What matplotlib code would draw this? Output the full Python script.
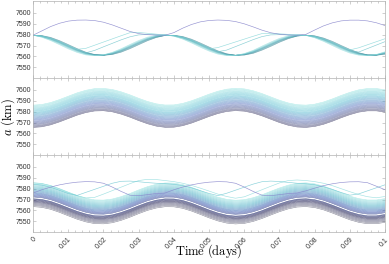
import numpy as np
import matplotlib.pyplot as plt
from matplotlib.colors import LinearSegmentedColormap

plt.rcParams['mathtext.fontset'] = 'cm'
plt.rcParams['font.family'] = ['Liberation Sans', 'DejaVu Sans']

# sample times (days), every 0.0025
TIME = np.linspace(0, 0.1, 41)

# panel 1: main bundle, phase spread profile, purple and cyan outliers
BASE1 = [7579.5, 7578.7, 7576.6, 7573.4, 7569.7, 7566.1, 7563.1, 7561.4, 7561.1, 7562.3,
         7564.8, 7568.2, 7571.9, 7575.4, 7578.0, 7579.4, 7579.2, 7577.6, 7574.8, 7571.2,
         7567.5, 7564.2, 7561.9, 7561.0, 7561.6, 7563.6, 7566.8, 7570.4, 7574.1, 7577.1,
         7579.0, 7579.5, 7578.4, 7576.0, 7572.7, 7568.9, 7565.4, 7562.7, 7561.2, 7561.2, 7562.7]
SPREAD1 = [0, -0.40, -0.73, -0.94, -1.00, -0.89, -0.64, -0.28, 0.12, 0.51,
           0.81, 0.97, 0.98, 0.83, 0.54, 0.16, -0.24, -0.61, -0.87, -0.99,
           -0.95, -0.76, -0.43, -0.04, 0.36, 0.70, 0.93, 1.00, 0.91, 0.67,
           0.32, -0.08, -0.47, -0.78, -0.97, -0.99, -0.85, -0.57, -0.20, 0.20, 0.57]
SPREAD_K1 = [-1.2, -0.6, 0.0, 0.4, 0.8, 1.2, 1.6, 2.2, 2.8]
PURPLE1 = [7579.5, 7583.5, 7587.5, 7590.5, 7592.5, 7593.4, 7593.5, 7593.0, 7591.5, 7589.0,
           7586.0, 7583.0, 7581.0, 7580.0, 7579.6, 7579.5, 7581.9, 7586.0, 7589.4, 7591.8,
           7593.1, 7593.5, 7593.2, 7592.1, 7590.0, 7587.2, 7584.2, 7581.8, 7580.4, 7579.7,
           7579.5, 7580.3, 7584.3, 7588.1, 7590.9, 7592.7, 7593.4, 7593.4, 7592.7, 7591.0, 7588.4]
CYAN1A = [7579.5, 7578.7, 7576.6, 7573.4, 7569.7, 7566.5, 7567.4, 7570.3, 7573.2, 7576.1,
          7579.0, 7581.8, 7582.0, 7581.3, 7580.5, 7579.8, 7579.2, 7577.6, 7574.8, 7571.2,
          7567.0, 7568.1, 7570.7, 7573.3, 7575.9, 7578.5, 7581.0, 7581.2, 7580.8, 7580.3,
          7579.8, 7579.5, 7578.4, 7576.0, 7572.7, 7568.9, 7566.0, 7567.9, 7570.7, 7573.5, 7576.3]
CYAN1B = [7579.5, 7578.7, 7576.6, 7573.4, 7569.7, 7566.1, 7563.3, 7565.5, 7568.8, 7572.0,
          7575.2, 7578.0, 7579.8, 7580.2, 7579.9, 7579.6, 7579.2, 7577.6, 7574.8, 7571.2,
          7567.5, 7564.3, 7565.8, 7569.0, 7572.2, 7575.4, 7578.2, 7579.8, 7580.0, 7579.8,
          7579.6, 7579.5, 7578.4, 7576.0, 7572.7, 7568.9, 7565.4, 7564.0, 7567.2, 7570.4, 7573.6]

# panel 2: lowest line and stacked offsets
BASE2 = [7565.5, 7566.1, 7567.9, 7570.6, 7573.7, 7576.8, 7579.2, 7580.7, 7580.9, 7579.9,
         7577.8, 7575.0, 7571.8, 7568.9, 7566.7, 7565.6, 7565.7, 7567.1, 7569.5, 7572.5,
         7575.6, 7578.3, 7580.2, 7581.0, 7580.5, 7578.8, 7576.2, 7573.1, 7570.0, 7567.5,
         7565.9, 7565.5, 7566.4, 7568.4, 7571.2, 7574.4, 7577.3, 7579.6, 7580.8, 7580.8, 7579.6]
OFFSETS2 = [0.0, 0.8, 1.6, 2.5, 3.3, 4.1, 4.9, 5.7, 6.6, 7.4, 8.2, 9.0, 9.8,
            10.7, 11.5, 12.3, 13.1, 13.9, 14.8, 15.6, 16.4, 17.2, 18.0, 18.9, 19.7, 20.5]

# panel 3: lowest line, offsets (with a gap), purple and cyan outliers
BASE3 = [7564.0, 7563.3, 7561.5, 7558.7, 7555.5, 7552.4, 7549.9, 7548.3, 7548.1, 7549.1,
         7551.3, 7554.2, 7557.5, 7560.5, 7562.7, 7563.9, 7563.8, 7562.4, 7559.9, 7556.8,
         7553.6, 7550.8, 7548.8, 7548.0, 7548.5, 7550.3, 7553.0, 7556.2, 7559.3, 7561.9,
         7563.6, 7564.0, 7563.1, 7561.0, 7558.1, 7554.9, 7551.8, 7549.5, 7548.2, 7548.2, 7549.5]
OFFSETS3 = [-0.5, 0.5, 1.4, 2.3, 3.2, 4.0, 4.7, 5.4, 6.1, 6.7,
            8.4, 9.2, 10.0, 10.8, 11.6, 12.4, 13.3, 14.2, 15.1,
            16.0, 16.9, 17.8, 18.7, 19.6, 20.5, 21.3]
PURPLE3 = [7576.0, 7579.0, 7581.5, 7583.5, 7585.0, 7586.0, 7586.5, 7586.3, 7585.0, 7581.5,
           7577.5, 7574.0, 7573.5, 7574.5, 7575.5, 7576.0, 7579.0, 7581.5, 7583.5, 7585.0,
           7586.0, 7586.5, 7586.3, 7585.0, 7581.5, 7577.5, 7574.0, 7573.5, 7574.5, 7575.5,
           7576.0, 7578.0, 7580.5, 7582.8, 7584.5, 7585.7, 7586.3, 7586.4, 7585.5, 7582.3, 7579.0]
CYAN3A = [7585.5, 7584.8, 7582.8, 7579.8, 7576.5, 7573.5, 7571.5, 7572.0, 7575.0, 7578.2,
          7581.4, 7584.6, 7587.5, 7588.6, 7588.4, 7587.5, 7586.5, 7585.0, 7583.0, 7580.5,
          7577.8, 7575.0, 7572.8, 7571.2, 7572.5, 7575.7, 7579.0, 7582.2, 7585.3, 7587.5,
          7588.0, 7587.5, 7586.5, 7585.0, 7582.8, 7580.0, 7577.2, 7574.6, 7572.6, 7571.6, 7572.8]
CYAN3B = [7584.0, 7583.3, 7581.3, 7578.5, 7575.5, 7573.8, 7576.6, 7579.4, 7582.2, 7585.0,
          7586.8, 7587.0, 7586.4, 7585.6, 7585.0, 7584.6, 7584.0, 7582.8, 7580.8, 7578.2,
          7575.6, 7573.6, 7575.8, 7578.6, 7581.4, 7584.2, 7586.4, 7587.0, 7586.6, 7585.8,
          7585.0, 7584.5, 7583.6, 7581.8, 7579.3, 7576.5, 7574.0, 7575.2, 7578.0, 7580.8, 7583.6]

XTICKS = [0, 0.01, 0.02, 0.03, 0.04, 0.05, 0.06, 0.07, 0.08, 0.09, 0.1]
XTICK_LABELS = ['0', '0.01', '0.02', '0.03', '0.04', '0.05', '0.06', '0.07', '0.08', '0.09', '0.1']
YTICKS = [7550, 7560, 7570, 7580, 7590, 7600]

cmap1 = LinearSegmentedColormap.from_list('p1', ['#2f7f8e', '#49aab8', '#8edcdc'])
cmap2 = LinearSegmentedColormap.from_list('p2', ['#4e4c74', '#5f78c2', '#5cbdd2', '#a0e6e4'])
cmap3 = LinearSegmentedColormap.from_list('p3', ['#707084', '#232358', '#3a56b0', '#3aa6c0', '#96e2e0'])
purple = '#8886cc'
lw = 0.45

fig, axes = plt.subplots(3, 1, figsize=(3.89, 2.64), dpi=100, sharex=True)
fig.subplots_adjust(left=0.085, right=0.99, top=0.996, bottom=0.121, hspace=0)

# panel 1
ax = axes[0]
base1 = np.array(BASE1)
spread1 = np.array(SPREAD1)
for i, k in enumerate(SPREAD_K1):
    ax.plot(TIME, base1 + k * spread1, color=cmap1(i / (len(SPREAD_K1) - 1)), lw=0.4, alpha=0.65)
ax.plot(TIME, CYAN1A, color=cmap1(0.95), lw=lw, alpha=0.85)
ax.plot(TIME, CYAN1B, color=cmap1(0.75), lw=lw, alpha=0.8)
ax.plot(TIME, PURPLE1, color=purple, lw=lw, alpha=0.9)

# panel 2
ax = axes[1]
base2 = np.array(BASE2)
for off in OFFSETS2:
    ax.plot(TIME, base2 + off, color=cmap2(off / OFFSETS2[-1]), lw=0.4, alpha=0.85)

# panel 3
ax = axes[2]
base3 = np.array(BASE3)
for off in OFFSETS3:
    frac = (off - OFFSETS3[0]) / (OFFSETS3[-1] - OFFSETS3[0])
    ax.plot(TIME, base3 + off, color=cmap3(frac), lw=0.4, alpha=0.85)
ax.plot(TIME, CYAN3A, color=cmap3(0.97), lw=lw, alpha=0.8)
ax.plot(TIME, CYAN3B, color=cmap3(0.88), lw=lw, alpha=0.8)
ax.plot(TIME, PURPLE3, color=purple, lw=lw, alpha=0.9)

for ax in axes:
    ax.set_xlim(0, 0.1)
    ax.set_ylim(7540, 7611)
    ax.set_yticks(YTICKS)
    ax.set_yticklabels([str(v) for v in YTICKS])
    ax.set_xticks(XTICKS)
    ax.set_xticks(np.arange(0, 0.1001, 0.002), minor=True)
    ax.tick_params(which='both', direction='in', top=True, right=True,
                   color='#aaaaaa', width=0.4, labelsize=5, labelcolor='#333333', pad=1.5)
    ax.tick_params(which='major', length=2.5)
    ax.tick_params(which='minor', length=1.3)
    for sp in ax.spines.values():
        sp.set_color('#b0b0b0')
        sp.set_linewidth(0.5)

axes[2].set_xticklabels(XTICK_LABELS, rotation=45, ha='right', rotation_mode='anchor')
axes[2].tick_params(axis='x', pad=3)

fig.text(8 / 389, 1 - 117 / 264, r'$a\ \mathrm{(km)}$', rotation=90,
         ha='center', va='center', fontsize=9)
fig.text(0.537, 1 - 251 / 264, r'$\mathrm{Time\ (days)}$', ha='center', va='center', fontsize=9)

fig.savefig('out.png', dpi=100)
